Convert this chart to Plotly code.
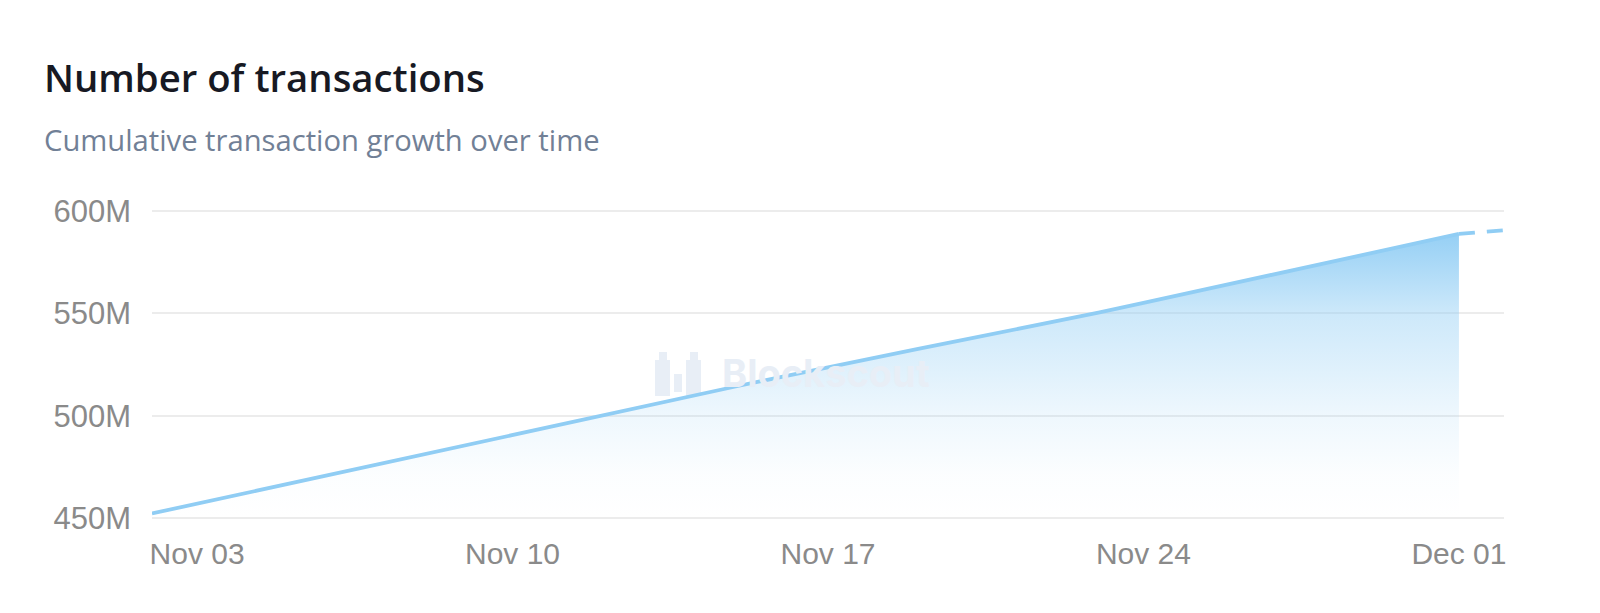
import plotly.graph_objects as go

# ---- data ----
dates = [
    "2024-11-02", "2024-11-03", "2024-11-04", "2024-11-05", "2024-11-06",
    "2024-11-07", "2024-11-08", "2024-11-09", "2024-11-10", "2024-11-11",
    "2024-11-12", "2024-11-13", "2024-11-14", "2024-11-15", "2024-11-16",
    "2024-11-17", "2024-11-18", "2024-11-19", "2024-11-20", "2024-11-21",
    "2024-11-22", "2024-11-23", "2024-11-24", "2024-11-25", "2024-11-26",
    "2024-11-27", "2024-11-28", "2024-11-29", "2024-11-30", "2024-12-01",
]
transactions_m = [
    452.2, 457.0, 461.9, 466.8, 471.6,
    476.5, 481.3, 486.0, 490.8, 495.6,
    500.4, 505.1, 509.8, 514.5, 519.1,
    523.7, 528.2, 532.6, 537.0, 541.4,
    545.9, 550.4, 555.1, 559.9, 564.7,
    569.5, 574.3, 579.2, 584.0, 588.8,
]
# incomplete (current) period, shown dashed
pending_dates = ["2024-12-01", "2024-12-02"]
pending_m = [588.8, 590.6]

x_tick_vals = ["2024-11-03", "2024-11-10", "2024-11-17", "2024-11-24", "2024-12-01"]
x_tick_text = ["Nov 03", "Nov 10", "Nov 17", "Nov 24", "Dec 01"]
y_tick_vals_m = [450, 500, 550, 600]
y_tick_text = ["450M", "500M", "550M", "600M"]

title = "Number of transactions"
subtitle = "Cumulative transaction growth over time"
watermark = "Blockscout"

# ---- figure ----
M = 1e6
LINE = "#90CDF4"
GRID = "#ececec"
y = [v * M for v in transactions_m]
y_pend = [v * M for v in pending_m]

fig = go.Figure()
fig.add_trace(go.Scatter(
    x=dates, y=y, mode="lines",
    line=dict(color=LINE, width=3.8),
    fill="tozeroy",
    fillgradient=dict(
        type="vertical",
        start=450 * M, stop=max(y),
        colorscale=[
            [0.0, "rgba(144,205,244,0)"],
            [0.15, "rgba(144,205,244,0.03)"],
            [0.36, "rgba(144,205,244,0.15)"],
            [0.72, "rgba(144,205,244,0.45)"],
            [1.0, "rgba(144,205,244,0.95)"],
        ],
    ),
    hoverinfo="skip", showlegend=False,
))
fig.add_trace(go.Scatter(
    x=pending_dates, y=y_pend, mode="lines",
    line=dict(color=LINE, width=3.8, dash="16px,12px"),
    hoverinfo="skip", showlegend=False,
))

# page body has an 8px margin; figure coordinates below are page px - 8
OFF = 8
W, H = 1600 - OFF, 613 - OFF
L, R, T, B = 152 - OFF, 96, 210 - OFF, 94
PW, PH = W - L - R, H - T - B


def px_x(px):
    return (px - OFF - L) / PW


def px_y(py):
    return (H - B - (py - OFF)) / PH


annotations = [
    dict(text=title, x=px_x(42), y=px_y(77), xref="paper", yref="paper",
         xanchor="left", yanchor="middle", showarrow=False,
         font=dict(family="Open Sans", size=38.3, color="#171923", weight=600)),
    dict(text=subtitle, x=px_x(42), y=px_y(140), xref="paper", yref="paper",
         xanchor="left", yanchor="middle", showarrow=False,
         font=dict(family="Open Sans", size=29.2, color="#718096")),
    dict(text="<b>" + watermark + "</b>", x=px_x(826), y=px_y(373), xref="paper", yref="paper",
         xanchor="center", yanchor="middle", showarrow=False,
         font=dict(family="Inter", size=38, color="#e8eef6")),
]

WM = "#e8eef6"
shapes = []
for (x0, y0, x1, y1) in [
    (655, 360, 670, 396), (659, 352, 667, 360),
    (686, 360, 701, 396), (690, 352, 698, 360),
    (674, 374, 682, 392),
]:
    shapes.append(dict(type="rect", xref="paper", yref="paper", layer="below",
                       x0=px_x(x0), x1=px_x(x1), y0=px_y(y1), y1=px_y(y0),
                       line=dict(width=0), fillcolor=WM))

# gridlines at the two range ends (plotly drops grid lines on the edges)
for v in (y_tick_vals_m[0], y_tick_vals_m[-1]):
    shapes.append(dict(type="line", xref="paper", yref="y", layer="below",
                       x0=0, x1=1, y0=v * M, y1=v * M,
                       line=dict(color=GRID, width=2)))

fig.update_layout(
    width=W, height=H,
    margin=dict(l=L, r=R, t=T, b=B),
    paper_bgcolor="white", plot_bgcolor="white",
    annotations=annotations, shapes=shapes,
    xaxis=dict(
        range=["2024-11-02", "2024-12-02"],
        tickvals=x_tick_vals, ticktext=x_tick_text,
        showgrid=False, zeroline=False, showline=False,
        ticks="", ticklabelstandoff=14,
        tickfont=dict(family="Liberation Sans", size=30, color="#8a8a8a"),
        fixedrange=True,
    ),
    yaxis=dict(
        range=[449.5 * M, 600.5 * M],
        tickvals=[v * M for v in y_tick_vals_m], ticktext=y_tick_text,
        showgrid=True, gridcolor=GRID, gridwidth=2,
        zeroline=False, showline=False, ticks="", ticklabelstandoff=20,
        tickfont=dict(family="Liberation Sans", size=31, color="#8a8a8a"),
        fixedrange=True,
    ),
)

fig.write_html("out.html")
